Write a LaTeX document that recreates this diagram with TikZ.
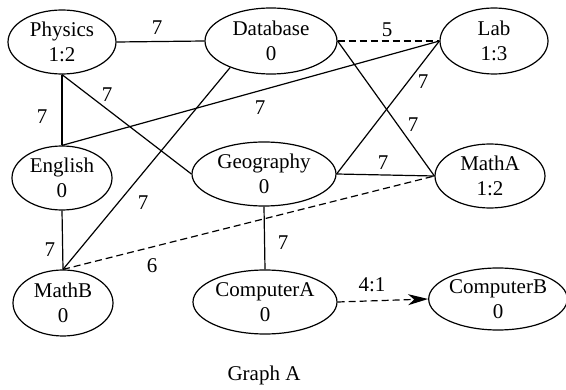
\documentclass[tikz,border=0pt]{standalone}
\usepackage{fontspec}
\setmainfont{Liberation Serif}
\usetikzlibrary{shapes.geometric,arrows.meta}
\begin{document}
\begin{tikzpicture}[x=1pt,y=-1pt,
  vtx/.style={ellipse,draw,line width=1.2pt,inner sep=0pt,align=center,font=\fontsize{21}{25}\selectfont},
  lbl/.style={inner sep=0pt,font=\fontsize{21}{25}\selectfont},
  edgeline/.style={line width=1.2pt},
  dashedge/.style={line width=1.2pt,dash pattern=on 7pt off 4pt}
]
\useasboundingbox (0,0) rectangle (566,390);
\node[vtx,minimum width=108pt,minimum height=64pt] (phy) at (62,42) {Physics\\1:2};
\node[vtx,minimum width=132pt,minimum height=66pt] (db) at (271,41) {Database\\0};
\node[vtx,minimum width=108pt,minimum height=66pt] (lab) at (494,41) {Lab\\1:3};
\node[vtx,minimum width=100pt,minimum height=64pt] (eng) at (62,178) {English\\0};
\node[vtx,minimum width=144pt,minimum height=64pt] (geo) at (264,174) {Geography\\0};
\node[vtx,minimum width=110pt,minimum height=64pt] (ma) at (490,176) {MathA\\1:2};
\node[vtx,minimum width=100pt,minimum height=66pt] (mb) at (63,303) {MathB\\0};
\node[vtx,minimum width=144pt,minimum height=64pt] (ca) at (265,302) {ComputerA\\0};
\node[vtx,minimum width=132pt,minimum height=62pt] (cb) at (498,299) {ComputerB\\0};
\node[lbl] (cap) at (264,375) {Graph A};

\draw[edgeline] (phy.east) -- (db.west);
\draw[dashedge] (db.east) -- (lab.west);
\draw[edgeline] (phy.south) -- (eng.north);
\draw[edgeline] (phy.south) -- (geo.west);
\draw[edgeline] (eng.north) -- (lab.west);
\draw[edgeline] (lab.west) -- (geo.east);
\draw[edgeline] (db.east) -- (ma.west);
\draw[edgeline] (geo.east) -- (ma.west);
\draw[edgeline] (db.213) -- (mb.north);
\draw[edgeline] (eng.south) -- (mb.north);
\draw[dashedge] (mb.north) -- (ma.west);
\draw[edgeline] (geo.south) -- (ca.north);
\draw[dashedge,-{Stealth[length=20pt,width=11pt,inset=6pt]}] (ca.east) -- (cb.west);

\node[lbl] (l1) at (157,28) {7};
\node[lbl] (l2) at (387,30) {5};
\node[lbl] (l3) at (42,117) {7};
\node[lbl] (l4) at (107,95) {7};
\node[lbl] (l5) at (260,108) {7};
\node[lbl] (l6) at (423,82) {7};
\node[lbl] (l7) at (413,125) {7};
\node[lbl] (l8) at (383,163) {7};
\node[lbl] (l9) at (143,203) {7};
\node[lbl] (l10) at (50,250) {7};
\node[lbl] (l11) at (152,266) {6};
\node[lbl] (l12) at (283,243) {7};
\node[lbl] (l13) at (372,285) {4:1};
\end{tikzpicture}
\end{document}
